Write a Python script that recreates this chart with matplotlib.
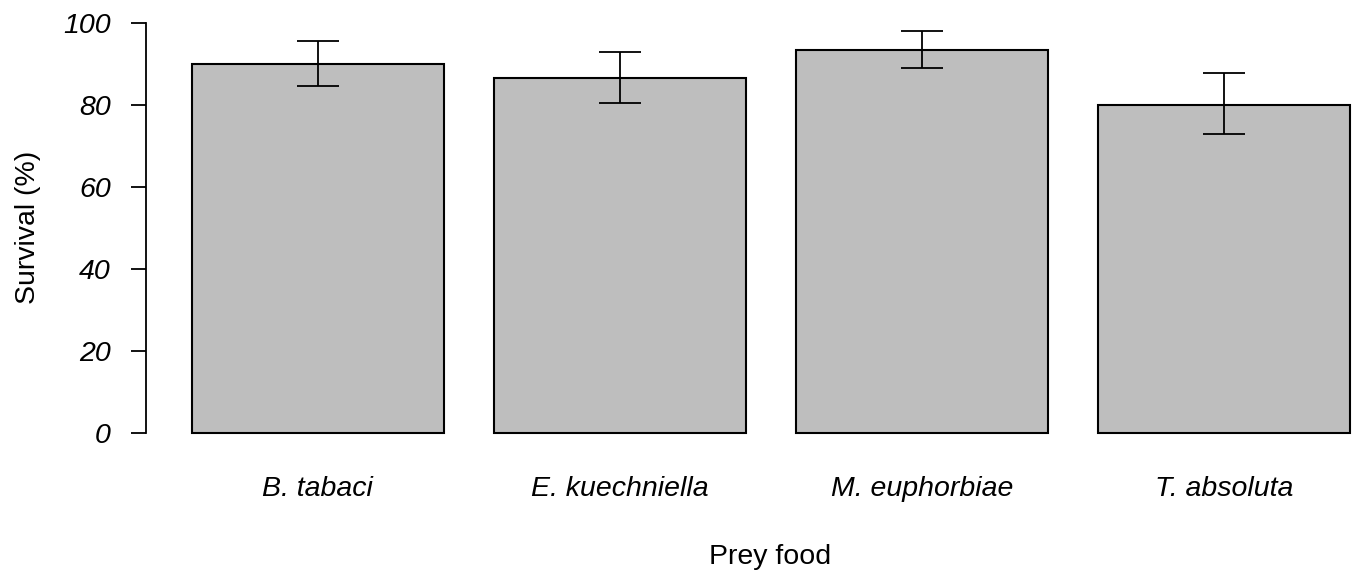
import matplotlib
matplotlib.use("Agg")
import matplotlib.pyplot as plt
import numpy as np

categories = ["B. tabaci", "E. kuechniella", "M. euphorbiae", "T. absoluta"]
survival = [89.9, 86.6, 93.3, 79.9]
err_low = [84.5, 80.4, 89.0, 72.8]
err_high = [95.6, 92.9, 98.0, 87.7]
y_ticks = [0, 20, 40, 60, 80, 100]

plt.rcParams['font.family'] = ['Liberation Sans', 'DejaVu Sans']

W, H = 1358, 575
fig = plt.figure(figsize=(W / 100, H / 100), dpi=100)

# axes in pixel coordinates (R-style plot region)
px_per_unit = 251.7
left_px = 145.7
x0 = 0.016
x1 = x0 + (W - left_px) / px_per_unit
top_px, bot_px = 6.3, 449.4
ax = fig.add_axes([left_px / W, 1 - bot_px / H, (W - left_px) / W, (bot_px - top_px) / H])

pos = 0.7 + 1.2 * np.arange(len(categories))
vals = np.array(survival)
lo = vals - np.array(err_low)
hi = np.array(err_high) - vals

ax.bar(pos, vals, width=1.0, color="#bebebe", edgecolor="black", linewidth=1.5, zorder=2)
ax.errorbar(pos, vals, yerr=[lo, hi], fmt="none", ecolor="black", elinewidth=1.3,
            capsize=14.8, capthick=1.3, zorder=3)

ax.set_xlim(x0, x1)
ax.set_ylim(-4, 104)

for s in ["top", "right", "bottom"]:
    ax.spines[s].set_visible(False)
ax.spines["left"].set_bounds(0, 100)
ax.spines["left"].set_linewidth(1.3)

ax.set_yticks(y_ticks)
ax.set_yticklabels([str(t) for t in y_ticks], fontsize=20.5, fontstyle="italic")
ax.tick_params(axis="y", length=11, width=1.3, pad=14)

ax.set_xticks(pos)
ax.set_xticklabels(categories, fontsize=20.5, fontstyle="italic")
ax.tick_params(axis="x", length=0, pad=19)

fig.text(770 / W, 1 - 557 / H, "Prey food", ha="center", va="center", fontsize=20.5)
fig.text(28 / W, 1 - 227 / H, "Survival (%)", ha="center", va="center", rotation=90, fontsize=20.5)

fig.savefig("out.png", dpi=100)
